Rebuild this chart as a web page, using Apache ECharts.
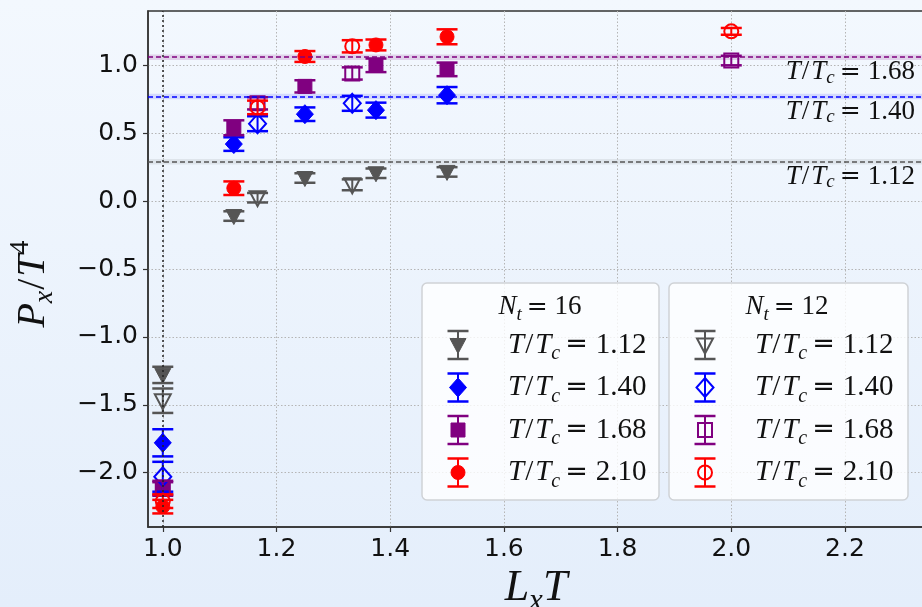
<!DOCTYPE html>
<html>
<head>
<meta charset="utf-8">
<script src="https://cdn.jsdelivr.net/npm/echarts@6/dist/echarts.min.js"></script>
<style>
  html, body { margin: 0; padding: 0; }
  body { background: linear-gradient(180deg, #f3f8fe 0%, #e4eefb 100%); }
  #chart { width: 922px; height: 607px; }
</style>
</head>
<body>
<div id="chart"></div>
<script>
// Directional pressure P_x/T^4 versus aspect ratio L_x T, two temporal extents N_t.

const xTicks = [1.0, 1.2, 1.4, 1.6, 1.8, 2.0, 2.2];
const yTicks = [-2.0, -1.5, -1.0, -0.5, 0.0, 0.5, 1.0];

const tempLabels = ['1.12', '1.40', '1.68', '2.10'];

// N_t = 16 lattices
const lxNt16 = [1.0, 1.125, 1.25, 1.375, 1.5];
const pNt16_112 = [-1.28, -0.11, 0.17, 0.205, 0.215];
const eNt16_112 = [0.06, 0.035, 0.035, 0.035, 0.035];
const pNt16_140 = [-1.78, 0.42, 0.64, 0.67, 0.78];
const eNt16_140 = [0.10, 0.05, 0.05, 0.055, 0.06];
const pNt16_168 = [-2.12, 0.54, 0.845, 1.0, 0.97];
const eNt16_168 = [0.05, 0.055, 0.045, 0.05, 0.05];
const pNt16_210 = [-2.25, 0.095, 1.065, 1.15, 1.21];
const eNt16_210 = [0.05, 0.05, 0.04, 0.04, 0.055];

// N_t = 12 lattices (null = not simulated)
const lxNt12 = [1.0, 1.1667, 1.3333, 2.0];
const pNt12_112 = [-1.47, 0.025, 0.12, null];
const eNt12_112 = [0.09, 0.035, 0.04, null];
const pNt12_140 = [-2.03, 0.57, 0.72, null];
const eNt12_140 = [0.11, 0.055, 0.055, null];
const pNt12_168 = [-2.11, 0.72, 0.94, 1.035];
const eNt12_168 = [0.05, 0.045, 0.045, 0.035];
const pNt12_210 = [-2.21, 0.69, 1.14, 1.25];
const eNt12_210 = [0.05, 0.05, 0.045, 0.025];

// Reference (large-volume) pressure levels with their uncertainty bands
const refTemps = ['1.12', '1.40', '1.68'];
const refLevels = [0.29, 0.77, 1.06];
const refErrors = [0.02, 0.02, 0.02];

const COLORS = { '1.12': '#555555', '1.40': '#0000ff', '1.68': '#800080', '2.10': '#ff0000' };
const SHAPES = { '1.12': 'tri', '1.40': 'dia', '1.68': 'sq', '2.10': 'circ' };

const SERIF = 'Liberation Serif';

// One error-bar glyph in pixel space: vertical bar, two caps and the marker
function glyph(cx, cy, yTop, yBot, color, shape, filled, z) {
  const els = [
    { type: 'line', shape: { x1: cx, y1: yTop, x2: cx, y2: yBot }, style: { stroke: color, lineWidth: 2 } },
    { type: 'line', shape: { x1: cx - 10.5, y1: yTop, x2: cx + 10.5, y2: yTop }, style: { stroke: color, lineWidth: 2.5 } },
    { type: 'line', shape: { x1: cx - 10.5, y1: yBot, x2: cx + 10.5, y2: yBot }, style: { stroke: color, lineWidth: 2.5 } }
  ];
  const style = { fill: filled ? color : 'none', stroke: color, lineWidth: filled ? 1 : 2 };
  if (shape === 'tri') {
    els.push({ type: 'polygon', shape: { points: [[cx - 8, cy - 6.5], [cx + 8, cy - 6.5], [cx, cy + 8.5]] }, style });
  } else if (shape === 'dia') {
    els.push({ type: 'polygon', shape: { points: [[cx, cy - 9.5], [cx + 8.5, cy], [cx, cy + 9.5], [cx - 8.5, cy]] }, style });
  } else if (shape === 'sq') {
    els.push({ type: 'rect', shape: { x: cx - 7, y: cy - 7, width: 14, height: 14 }, style });
  } else {
    els.push({ type: 'circle', shape: { cx: cx, cy: cy, r: 7 }, style });
  }
  if (z !== undefined) els.forEach(e => { e.z = z; });
  return els;
}

function errorSeries(name, xs, ys, es, temp, filled) {
  const data = [];
  xs.forEach((x, i) => { if (ys[i] !== null) data.push([x, ys[i], es[i]]); });
  return {
    type: 'custom',
    name: name,
    data: data,
    encode: { x: 0, y: 1 },
    z: 3,
    renderItem: function (params, api) {
      const x = api.value(0), y = api.value(1), e = api.value(2);
      const c = api.coord([x, y]);
      const hi = api.coord([x, y + e]);
      const lo = api.coord([x, y - e]);
      return { type: 'group', children: glyph(c[0], c[1], hi[1], lo[1], COLORS[temp], SHAPES[temp], filled) };
    }
  };
}

// Rich-text styles for inline math: italic, upright, subscript, superscript, relation sign
function mathRich(size, color, lh) {
  const lineH = Math.round(size * (lh || 1.3));
  const base = { fontFamily: SERIF, fontSize: size, color: color, fill: color, lineHeight: lineH };
  const small = Math.round(size * 0.7);
  return {
    i: Object.assign({}, base, { fontStyle: 'italic' }),
    n: Object.assign({}, base),
    sl: Object.assign({}, base, { padding: [0, 2, 0, 1] }),
    e: Object.assign({}, base, { fontFamily: 'DejaVu Sans', fontSize: Math.round(size * 0.92),
                                 padding: [0, Math.round(size * 0.26), 0, Math.round(size * 0.18)] }),
    s: { fontFamily: SERIF, fontStyle: 'italic', fontSize: small, color: color, fill: color,
         lineHeight: small, verticalAlign: 'bottom' },
    p: { fontFamily: SERIF, fontSize: small, color: color, fill: color,
         lineHeight: small, verticalAlign: 'top' }
  };
}
const tLabel = (t) => '{i|T}{sl|/}{i|T}{s|c}{e|=}{n|' + t + '}';

const series = [
  errorSeries('Nt16 1.12', lxNt16, pNt16_112, eNt16_112, '1.12', true),
  errorSeries('Nt16 1.40', lxNt16, pNt16_140, eNt16_140, '1.40', true),
  errorSeries('Nt16 1.68', lxNt16, pNt16_168, eNt16_168, '1.68', true),
  errorSeries('Nt16 2.10', lxNt16, pNt16_210, eNt16_210, '2.10', true),
  errorSeries('Nt12 1.12', lxNt12, pNt12_112, eNt12_112, '1.12', false),
  errorSeries('Nt12 1.40', lxNt12, pNt12_140, eNt12_140, '1.40', false),
  errorSeries('Nt12 1.68', lxNt12, pNt12_168, eNt12_168, '1.68', false),
  errorSeries('Nt12 2.10', lxNt12, pNt12_210, eNt12_210, '2.10', false)
];

// Reference levels: shaded band plus dashed line and label
const bandColors = { '1.12': 'rgba(80,80,80,0.10)', '1.40': 'rgba(0,0,255,0.12)', '1.68': 'rgba(128,0,128,0.15)' };
series.push({
  type: 'line',
  name: 'reference',
  data: [],
  z: 2,
  markArea: {
    silent: true,
    data: refLevels.map((v, i) => [
      { yAxis: v - refErrors[i], itemStyle: { color: bandColors[refTemps[i]] } },
      { yAxis: v + refErrors[i] }
    ])
  },
  markLine: {
    silent: true,
    symbol: 'none',
    data: refLevels.map((v, i) => ({
      yAxis: v,
      lineStyle: { color: COLORS[refTemps[i]], type: [5, 3], width: 1.5 },
      label: {
        show: true,
        position: 'insideEndBottom',
        distance: [9, 0],
        formatter: tLabel(refTemps[i]),
        rich: mathRich(27, '#111', 1.1)
      }
    })).concat([{
      xAxis: 1.0,
      lineStyle: { color: '#222', type: [2, 3], width: 1.5 },
      label: { show: false }
    }])
  }
});

// Legend boxes, drawn as graphic elements
const legendGraphics = [];
[[422, 237, '16', true], [669, 239, '12', false]].forEach(([left, width, nt, filled]) => {
  legendGraphics.push({
    type: 'rect', z: 50,
    shape: { x: left, y: 283, width: width, height: 217, r: 5 },
    style: { fill: 'rgba(255,255,255,0.8)', stroke: '#cfd2d6', lineWidth: 1.5 }
  });
  legendGraphics.push({
    type: 'text', z: 51,
    style: { x: left + 118, y: 307, text: '{i|N}{s|t}{e|=}{n|' + nt + '}', rich: mathRich(27, '#111'),
             align: 'center', verticalAlign: 'middle' }
  });
  tempLabels.forEach((t, k) => {
    const cy = 345 + k * 42.5;
    const cx = left + 36;
    legendGraphics.push({
      type: 'group', z: 51,
      children: glyph(cx, cy, cy - 14, cy + 14, COLORS[t], SHAPES[t], filled, 52)
    });
    legendGraphics.push({
      type: 'text', z: 51,
      style: { x: left + 86, y: cy, text: tLabel(t), rich: mathRich(29, '#111'),
               align: 'left', verticalAlign: 'middle' }
    });
  });
});

const chart = echarts.init(document.getElementById('chart'), null, { renderer: 'canvas' });
chart.setOption({
  backgroundColor: 'transparent',
  animation: false,
  grid: { left: 148, right: -2, top: 11, bottom: 80, containLabel: false, outerBoundsMode: 'none',
          show: true, borderColor: '#333', borderWidth: 1.5 },
  xAxis: {
    type: 'value',
    min: 0.974, max: 2.339,
    name: '{i|L}{s|x}{i|T}',
    nameLocation: 'middle',
    nameGap: 31,
    nameTextStyle: { rich: mathRich(44, '#111') },
    axisLine: { show: true, onZero: false, lineStyle: { color: '#333', width: 1.5 } },
    axisTick: { show: true, length: 5, customValues: xTicks, lineStyle: { color: '#333', width: 1.2 } },
    axisLabel: { customValues: xTicks, margin: 10, fontFamily: 'DejaVu Sans', fontSize: 25, color: '#111',
                 formatter: v => v.toFixed(1) },
    splitLine: { show: true, lineStyle: { color: '#b5b5b5', type: [1.5, 2], width: 1 } }
  },
  yAxis: {
    type: 'value',
    min: -2.4, max: 1.4,
    name: '{i|P}{s|x}{sl|/}{i|T}{p|4}',
    nameLocation: 'middle',
    nameRotate: 90,
    nameGap: 89,
    nameTextStyle: { rich: mathRich(40, '#111'), padding: [0, 30, 0, 0] },
    axisLine: { show: true, onZero: false, lineStyle: { color: '#333', width: 1.5 } },
    axisTick: { show: true, length: 5, customValues: yTicks, lineStyle: { color: '#333', width: 1.2 } },
    axisLabel: { customValues: yTicks, margin: 10, fontFamily: 'DejaVu Sans', fontSize: 25, color: '#111',
                 formatter: v => v.toFixed(1).replace('-', '\u2212') },
    splitLine: { show: true, lineStyle: { color: '#b5b5b5', type: [1.5, 2], width: 1 } }
  },
  graphic: legendGraphics,
  series: series
});
</script>
</body>
</html>
